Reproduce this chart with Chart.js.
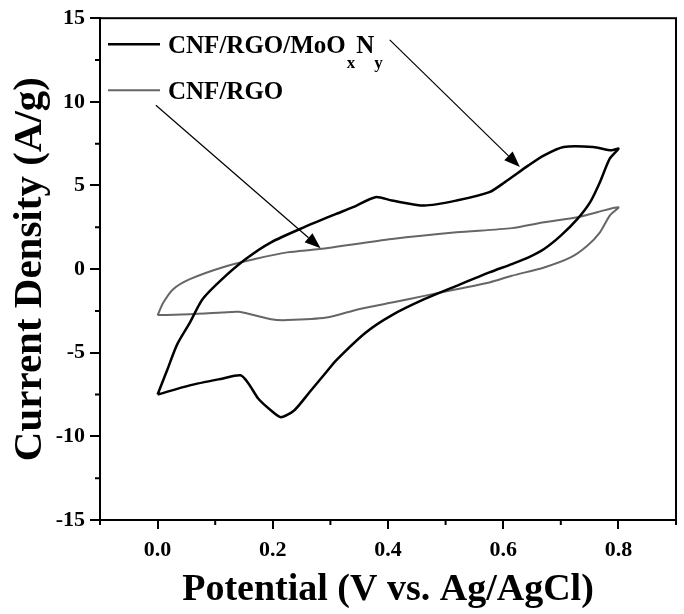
<!DOCTYPE html>
<html>
<head>
<meta charset="utf-8">
<script src="https://cdn.jsdelivr.net/npm/chart.js@4.4.0/dist/chart.umd.min.js"></script>
<style>
  html, body { margin: 0; padding: 0; background: #fff; }
  #wrap { width: 684px; height: 614px; }
</style>
</head>
<body>
<div id="wrap"><canvas id="myChart"></canvas></div>
<script>
// CNF/RGO/MoOxNy loop (potential V, current A/g), forward then reverse sweep
var moV = [0.0, 0.017, 0.034, 0.056, 0.078, 0.112, 0.153, 0.197, 0.254, 0.31, 0.339, 0.378, 0.407, 0.463, 0.519, 0.576, 0.603, 0.644, 0.671, 0.705, 0.756, 0.788, 0.8,
           0.785, 0.768, 0.751, 0.729, 0.7, 0.671, 0.644, 0.615, 0.576, 0.519, 0.463, 0.407, 0.361, 0.31, 0.293, 0.264, 0.237, 0.214, 0.197, 0.175, 0.158, 0.144, 0.112, 0.056, 0.0];
var moI = [-7.5, -6.0, -4.5, -3.2, -1.8, -0.6, 0.6, 1.6, 2.5, 3.3, 3.7, 4.3, 4.1, 3.8, 4.1, 4.6, 5.2, 6.2, 6.8, 7.3, 7.3, 7.1, 7.2,
           6.6, 5.2, 4.0, 3.0, 2.0, 1.2, 0.7, 0.3, -0.2, -1.0, -1.8, -2.75, -3.8, -5.45, -6.15, -7.35, -8.45, -8.85, -8.45, -7.75, -6.85, -6.35, -6.55, -6.95, -7.5];

// CNF/RGO loop
var cnfV = [0.0, 0.01, 0.027, 0.056, 0.112, 0.169, 0.225, 0.281, 0.407, 0.519, 0.615, 0.671, 0.729, 0.763, 0.8,
            0.785, 0.768, 0.746, 0.717, 0.671, 0.615, 0.576, 0.519, 0.463, 0.407, 0.349, 0.293, 0.225, 0.197, 0.141, 0.112, 0.056, 0.0];
var cnfI = [-2.75, -2.0, -1.2, -0.6, 0.1, 0.6, 1.0, 1.2, 1.8, 2.2, 2.45, 2.8, 3.1, 3.4, 3.7,
            3.2, 2.2, 1.4, 0.7, 0.1, -0.4, -0.8, -1.2, -1.6, -2.0, -2.4, -2.9, -3.05, -3.0, -2.55, -2.6, -2.7, -2.75];

var seriesNames = ["CNF/RGO/MoO", "CNF/RGO"];
var xTickLabels = ["0.0", "0.2", "0.4", "0.6", "0.8"];
var yTickLabels = ["-15", "-10", "-5", "0", "5", "10", "15"];

// arrows from legend text to curves: [x0, y0, x1, y1] in data units
var arrowMo = [0.403, 13.7, 0.629, 6.1];
var arrowCnf = [-0.003, 9.8, 0.283, 1.25];

function toPoints(xs, ys) {
  return xs.map(function (x, i) { return { x: x, y: ys[i] }; });
}

var serif = "'Liberation Serif', 'Times New Roman', serif";

function isMajorX(v) { return Math.round(v * 10) % 2 === 0; }
function isMajorY(v) { return Math.round(v / 2.5) % 2 === 0; }

var framePlugin = {
  id: "frame",
  afterDatasetsDraw: function (chart) {
    var c = chart.ctx, a = chart.chartArea;
    var xs = chart.scales.x, ys = chart.scales.y;
    c.save();
    // box border
    c.strokeStyle = "#000";
    c.lineWidth = 2;
    c.strokeRect(a.left, a.top, a.right - a.left, a.bottom - a.top);

    // minor ticks (shorter than the major ones)
    c.lineWidth = 2;
    c.beginPath();
    xs.ticks.forEach(function (t) {
      if (isMajorX(t.value)) return;
      var px = xs.getPixelForValue(t.value);
      c.moveTo(px, a.bottom);
      c.lineTo(px, a.bottom + 5);
    });
    ys.ticks.forEach(function (t) {
      if (isMajorY(t.value)) return;
      var py = ys.getPixelForValue(t.value);
      c.moveTo(a.left, py);
      c.lineTo(a.left - 5, py);
    });
    c.stroke();

    // arrows
    function arrow(p, color) {
      var x0 = xs.getPixelForValue(p[0]), y0 = ys.getPixelForValue(p[1]);
      var x1 = xs.getPixelForValue(p[2]), y1 = ys.getPixelForValue(p[3]);
      var ang = Math.atan2(y1 - y0, x1 - x0);
      var len = 16, half = 6;
      c.strokeStyle = color;
      c.fillStyle = color;
      c.lineWidth = 1.2;
      c.beginPath();
      c.moveTo(x0, y0);
      c.lineTo(x1 - len * Math.cos(ang), y1 - len * Math.sin(ang));
      c.stroke();
      c.beginPath();
      c.moveTo(x1, y1);
      c.lineTo(x1 - len * Math.cos(ang) + half * Math.sin(ang), y1 - len * Math.sin(ang) - half * Math.cos(ang));
      c.lineTo(x1 - len * Math.cos(ang) - half * Math.sin(ang), y1 - len * Math.sin(ang) + half * Math.cos(ang));
      c.closePath();
      c.fill();
    }
    arrow(arrowMo, "#000");
    arrow(arrowCnf, "#000");

    // legend inside plot
    var lx = a.left + 8, tx = a.left + 68;
    var rows = [a.top + 26, a.top + 72];
    var cols = ["#000", "#666"];
    var widths = [2.5, 2];
    c.textBaseline = "alphabetic";
    c.textAlign = "left";
    for (var i = 0; i < 2; i++) {
      c.strokeStyle = cols[i];
      c.lineWidth = widths[i];
      c.beginPath();
      c.moveTo(lx, rows[i]);
      c.lineTo(lx + 52, rows[i]);
      c.stroke();
      c.fillStyle = "#000";
      c.font = "bold 25px " + serif;
      c.fillText(seriesNames[i], tx, rows[i] + 9);
    }
    // subscripts for MoOxNy
    var w = c.measureText(seriesNames[0]).width;
    c.font = "bold 17px " + serif;
    c.fillText("x", tx + w + 1, rows[0] + 24);
    var wx = c.measureText("x").width;
    c.font = "bold 25px " + serif;
    c.fillText("N", tx + w + wx + 2, rows[0] + 9);
    var wn = c.measureText("N").width;
    c.font = "bold 17px " + serif;
    c.fillText("y", tx + w + wx + wn + 2, rows[0] + 24);
    c.restore();
  }
};

var ctx = document.getElementById("myChart").getContext("2d");
var chart = new Chart(ctx, {
  type: "scatter",
  data: {
    datasets: [
      {
        label: "CNF/RGO/MoOxNy",
        data: toPoints(moV, moI),
        showLine: true,
        borderColor: "#000",
        borderWidth: 2.5,
        pointRadius: 0,
        tension: 0.25
      },
      {
        label: "CNF/RGO",
        data: toPoints(cnfV, cnfI),
        showLine: true,
        borderColor: "#666",
        borderWidth: 2,
        pointRadius: 0,
        tension: 0.25
      }
    ]
  },
  options: {
    responsive: true,
    maintainAspectRatio: false,
    animation: false,
    layout: { padding: { top: 18, right: 2, left: 0, bottom: 0 } },
    plugins: {
      legend: { display: false },
      tooltip: { enabled: false }
    },
    scales: {
      x: {
        type: "linear",
        min: -0.1,
        max: 0.9,
        afterFit: function (s) { s.height = 94; },
        afterBuildTicks: function (s) {
          var t = [];
          for (var k = -1; k <= 9; k++) t.push({ value: k / 10 });
          s.ticks = t;
        },
        ticks: {
          autoSkip: false,
          maxRotation: 0,
          padding: 8,
          color: "#000",
          font: { family: serif, size: 22, weight: "bold" },
          callback: function (v) {
            var k = Math.round(v * 10);
            if (k >= 0 && k % 2 === 0 && k <= 8) return xTickLabels[k / 2];
            return "";
          }
        },
        grid: {
          display: true, drawOnChartArea: false, drawTicks: true, tickLength: 9, lineWidth: 2,
          color: function (c) { return c.tick && isMajorX(c.tick.value) ? "#000" : "rgba(0,0,0,0)"; }
        },
        border: { display: true, color: "#000", width: 2 },
        title: {
          display: true,
          text: "Potential (V vs. Ag/AgCl)",
          color: "#000",
          font: { family: serif, size: 38, weight: "bold" },
          padding: { top: 0, bottom: 1 }
        }
      },
      y: {
        type: "linear",
        min: -15,
        max: 15,
        afterFit: function (s) { s.width = 100; },
        afterBuildTicks: function (s) {
          var t = [];
          for (var k = -6; k <= 6; k++) t.push({ value: k * 2.5 });
          s.ticks = t;
        },
        ticks: {
          autoSkip: false,
          padding: 5,
          color: "#000",
          font: { family: serif, size: 22, weight: "bold" },
          callback: function (v) {
            var k = Math.round(v / 2.5);
            if (k % 2 === 0) return yTickLabels[(k + 6) / 2];
            return "";
          }
        },
        grid: {
          display: true, drawOnChartArea: false, drawTicks: true, tickLength: 10, lineWidth: 2,
          color: function (c) { return c.tick && isMajorY(c.tick.value) ? "#000" : "rgba(0,0,0,0)"; }
        },
        border: { display: true, color: "#000", width: 2 },
        title: {
          display: true,
          text: "Current Density (A/g)",
          color: "#000",
          font: { family: serif, size: 41, weight: "bold" },
          padding: { top: 6, bottom: 0 }
        }
      }
    }
  },
  plugins: [framePlugin]
});
</script>
</body>
</html>
